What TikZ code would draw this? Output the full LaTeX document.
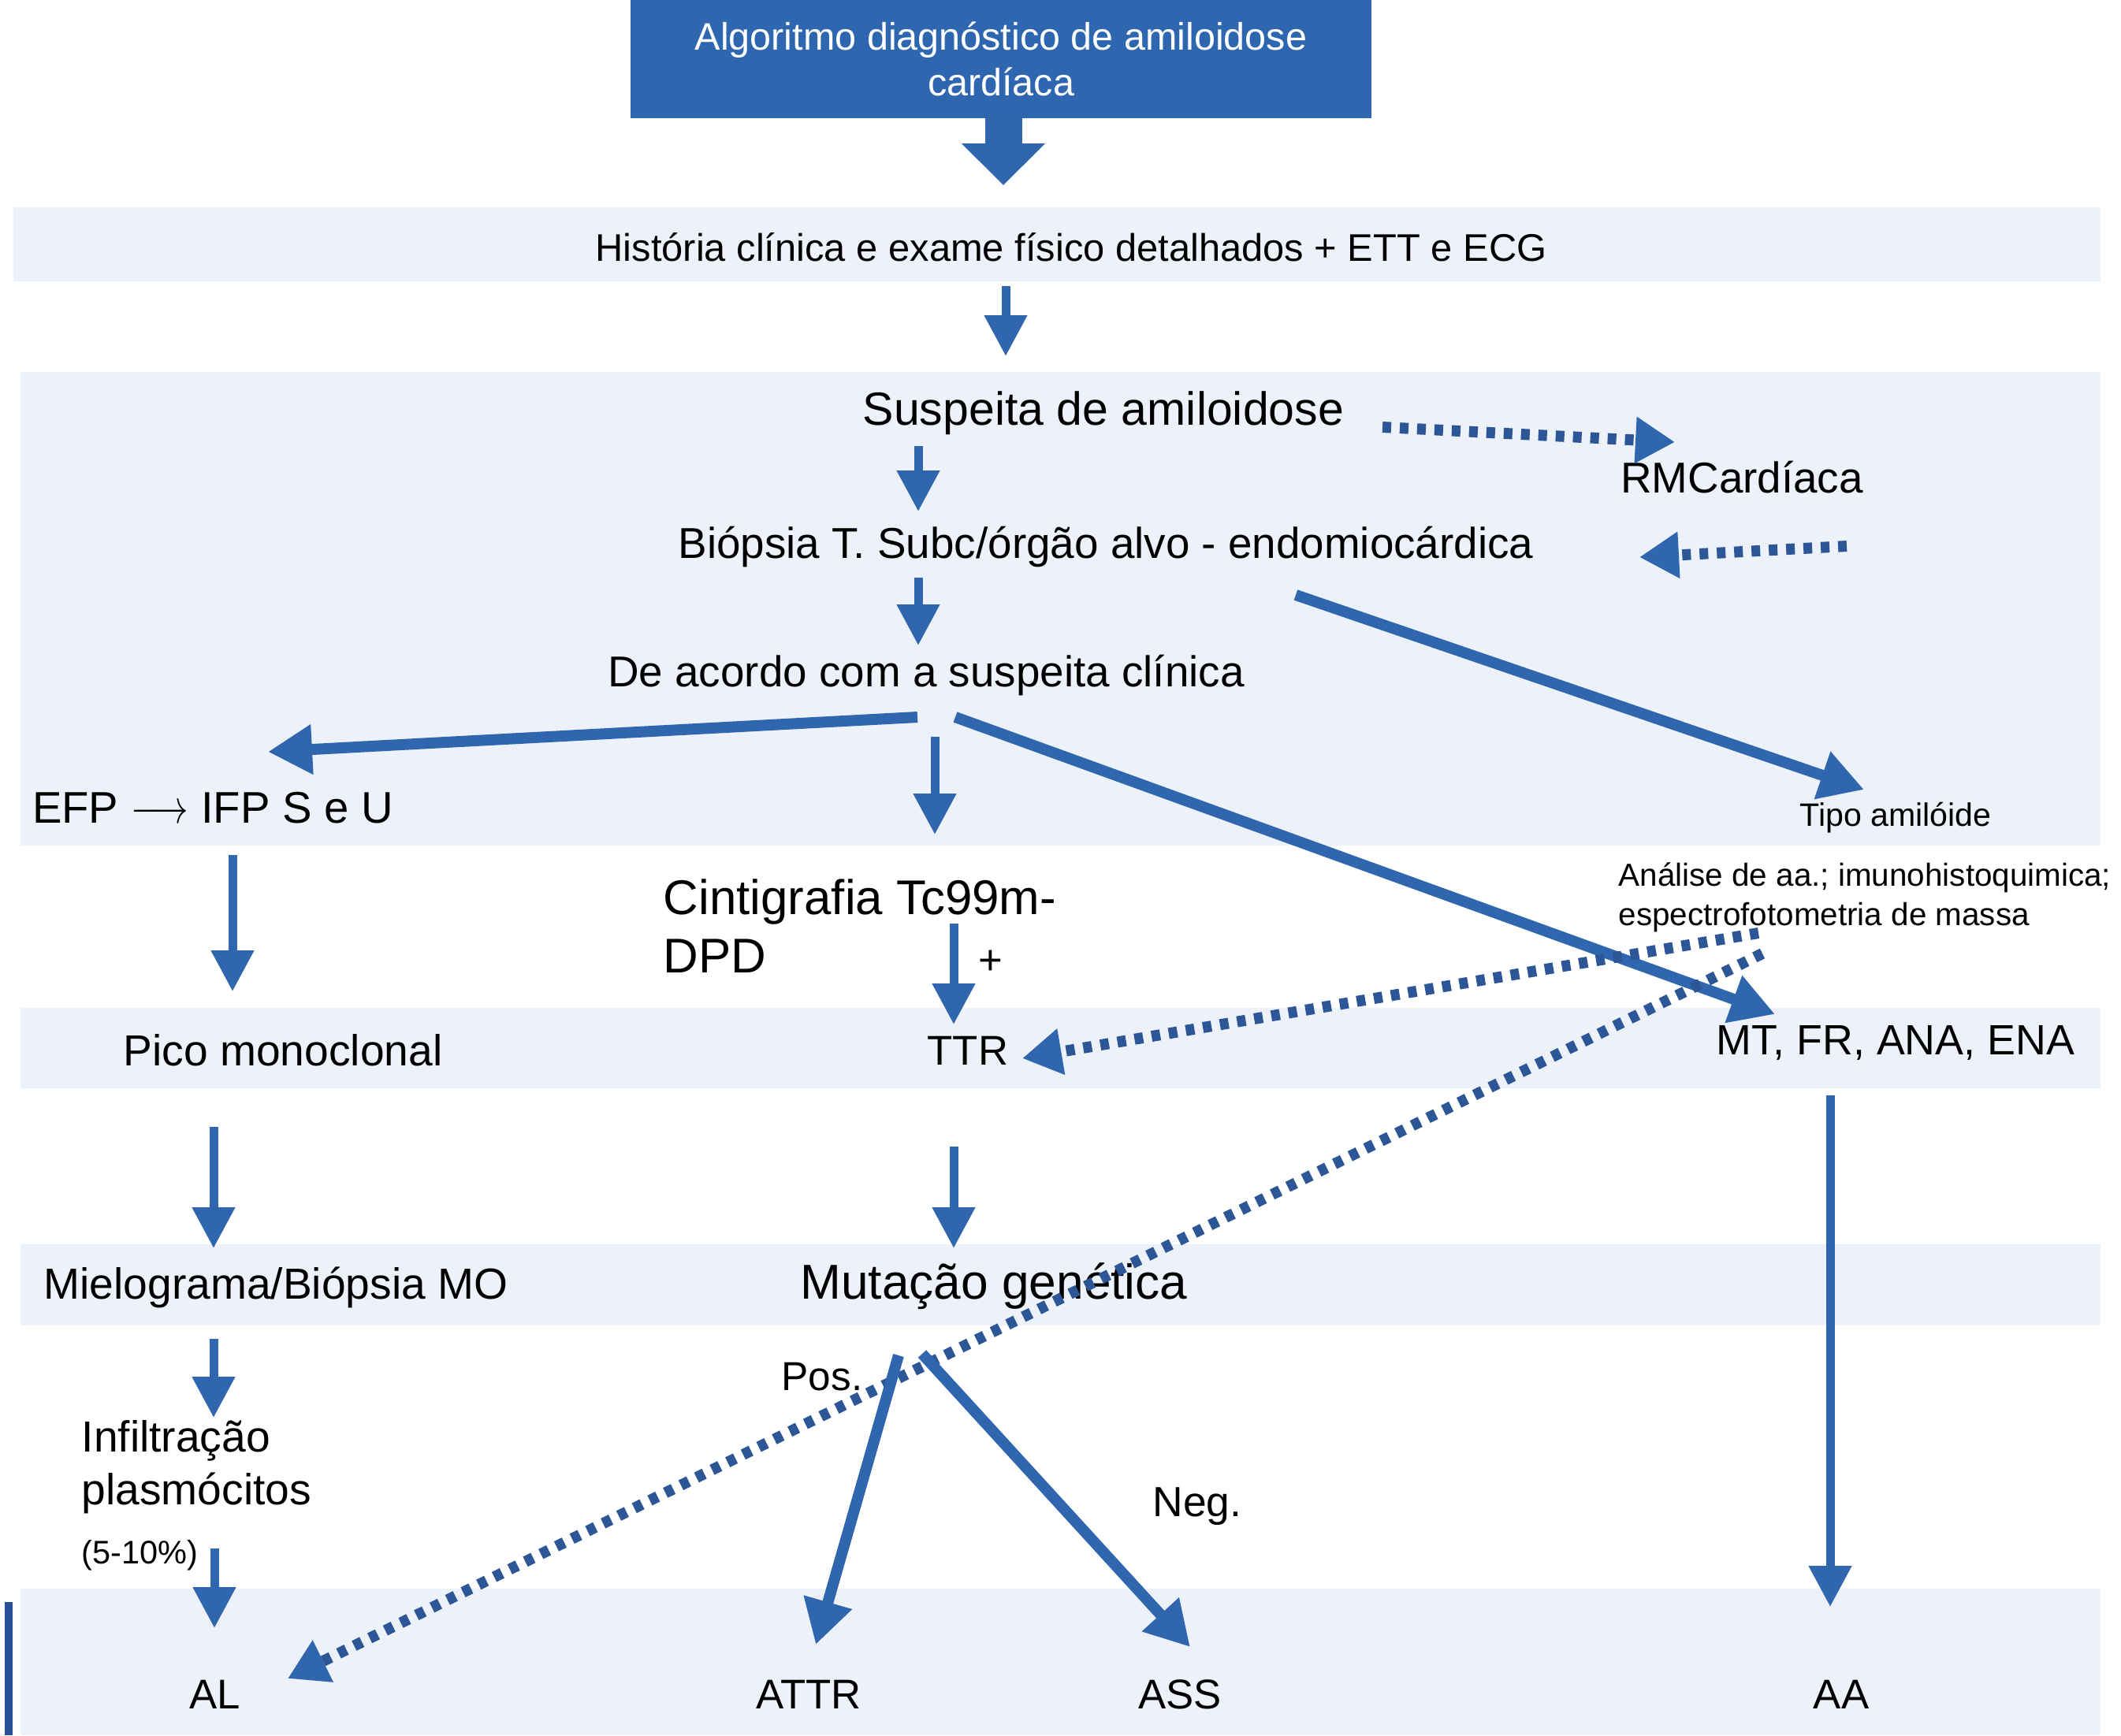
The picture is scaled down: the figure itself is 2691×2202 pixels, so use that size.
\documentclass[tikz,border=0pt]{standalone}
\usepackage{fontspec}
\setmainfont{Liberation Sans}
\usetikzlibrary{arrows.meta,calc}
\definecolor{bandc}{RGB}{237,241,250}
\definecolor{titlec}{RGB}{46,103,176}
\definecolor{arrc}{RGB}{47,102,174}
\definecolor{dotc}{RGB}{44,86,150}
\definecolor{edgec}{RGB}{40,80,150}
\newcommand{\myfs}[2]{\fontsize{#1}{#2}\selectfont}
\begin{document}
\begin{tikzpicture}[x=0.1mm,y=-0.1mm,
  lbl/.style={inner sep=0pt, text=black},
  thinarr/.style={draw=arrc, line width=1.1mm, -{Triangle[width=5.2mm,length=5.2mm]}},
  medarr/.style={draw=arrc, line width=1.4mm, -{Triangle[width=6mm,length=5.6mm]}},
  fatarr/.style={draw=arrc, line width=4.7mm, -{Triangle[width=10.3mm,length=5.3mm]}},
  dotarr/.style={draw=dotc, line width=1.4mm, dash pattern=on 1.1mm off 1.1mm, -{Triangle[width=5.6mm,length=5mm,color=arrc]}},
]
\fill[white] (0,0) rectangle (2691,2202);
\useasboundingbox (0,0) rectangle (2691,2202);
% bands
\fill[bandc] (17,263) rectangle (2665,357);
\fill[bandc] (26,472) rectangle (2665,1073);
\fill[bandc] (26,1279) rectangle (2665,1381);
\fill[bandc] (26,1579) rectangle (2665,1682);
\fill[bandc] (26,2016) rectangle (2665,2202);
\fill[edgec] (6,2033) rectangle (16,2202);

% nodes
\node[fill=titlec, text=white, inner sep=0pt, minimum width=94mm, minimum height=15mm, align=center, font=\myfs{13.8}{16.5}] (title) at (1270,75) {Algoritmo diagnóstico de amiloidose\\cardíaca};
\node[lbl, font=\myfs{13.9}{17}] (hist) at (1359,314) {História clínica e exame físico detalhados + ETT e ECG};
\node[lbl, font=\myfs{16.8}{20}] (susp) at (1400,524) {Suspeita de amiloidose};
\node[lbl, font=\myfs{15.6}{19}] (rmc) at (2210,606) {RMCardíaca};
\node[lbl, font=\myfs{15.6}{19}] (biop) at (1403,694) {Biópsia T. Subc/órgão alvo - endomiocárdica};
\node[lbl, font=\myfs{15.6}{19}] (deac) at (1175,857) {De acordo com a suspeita clínica};
\node[lbl, font=\myfs{11.7}{14}] (tipo) at (2405,1038) {Tipo amilóide};
\node[lbl, font=\myfs{16}{19}] (efp) at (270,1025) {EFP \scalebox{0.75}[1]{$\longrightarrow$} IFP S e U};
\node[lbl, font=\myfs{17.6}{21.3}, anchor=west, align=left] (cint) at (841,1175) {Cintigrafia Tc99m-\\DPD};
\node[lbl, font=\myfs{15}{18}] (plus) at (1257,1221) {+};
\node[lbl, font=\myfs{11.5}{14.2}, anchor=west, align=left] (anal) at (2053,1139) {Análise de aa.; imunohistoquimica;\\espectrofotometria de massa};
\node[lbl, font=\myfs{15.7}{19}] (pico) at (359,1333) {Pico monoclonal};
\node[lbl, font=\myfs{15}{18}] (ttr) at (1228,1333) {TTR};
\node[lbl, font=\myfs{15.3}{18}] (mt) at (2405,1323) {MT, FR, ANA, ENA};
\node[lbl, font=\myfs{15.7}{19}] (miel) at (350,1634) {Mielograma/Biópsia MO};
\node[lbl, font=\myfs{17.7}{21}] (mut) at (1261,1632) {Mutação genética};
\node[lbl, font=\myfs{15.7}{19}, anchor=west, align=left] (infil) at (103,1862) {Infiltração\\plasmócitos};
\node[lbl, font=\myfs{11.8}{14}, anchor=west] (pct) at (103,1974) {(5-10\%)};
\node[lbl, font=\myfs{14.6}{18}] (pos) at (1043,1747) {Pos.};
\node[lbl, font=\myfs{15.2}{18}] (neg) at (1519,1912) {Neg.};
\node[lbl, font=\myfs{15}{18}] (al) at (273,2150) {AL};
\node[lbl, font=\myfs{15}{18}] (attr) at (1026,2150) {ATTR};
\node[lbl, font=\myfs{15}{18}] (ass) at (1497,2150) {ASS};
\node[lbl, font=\myfs{15}{18}] (aa) at (2336,2150) {AA};

% connectors
\draw[fatarr] ($(title.center)+(3,70)$) -- ($(hist.center)+(-86,-79)$);
\draw[thinarr] ($(hist.center)+(-83,49)$) -- ($(susp.center)+(-124,-72)$);
\draw[thinarr] ($(susp.center)+(-235,42)$) -- ($(biop.center)+(-238,-45)$);
\draw[thinarr] ($(biop.center)+(-238,39)$) -- ($(deac.center)+(-10,-38)$);
\draw[dotarr] ($(susp.center)+(354,18)$) -- ($(rmc.center)+(-85,-45)$);
\draw[dotarr] ($(rmc.center)+(133,87)$) -- ($(biop.center)+(677,13)$);
\draw[medarr] ($(biop.center)+(241,61)$) -- ($(tipo.center)+(-40,-36)$);
\draw[medarr] ($(deac.center)+(-11,53)$) -- ($(efp.center)+(70,-71)$);
\draw[thinarr] ($(deac.center)+(11,78)$) -- ($(cint.west)+(345,-116)$);
\draw[medarr] ($(deac.center)+(37,53)$) -- ($(mt.center)+(-153,-36)$);
\draw[thinarr] ($(efp.center)+(25,60)$) -- ($(pico.center)+(-64,-75)$);
\draw[thinarr] ($(cint.west)+(369,-3)$) -- ($(ttr.center)+(-18,-33)$);
\draw[dotarr] ($(anal.west)+(178,45)$) -- ($(ttr.center)+(69,10)$);
\draw[dotarr] ($(anal.west)+(183,71)$) -- ($(al.center)+(92,-20)$);
\draw[thinarr] ($(pico.center)+(-88,97)$) -- ($(miel.center)+(-79,-50)$);
\draw[thinarr] ($(ttr.center)+(-18,122)$) -- ($(mut.center)+(-51,-48)$);
\draw[thinarr] ($(mt.center)+(-83,67)$) -- ($(aa.center)+(-14,-111)$);
\draw[thinarr] ($(miel.center)+(-79,65)$) -- ($(infil.west)+(168,-63)$);
\draw[thinarr] ($(pct.west)+(169,-9)$) -- ($(al.center)+(-1,-84)$);
\draw[medarr] ($(mut.center)+(-121,88)$) -- ($(attr.center)+(9,-63)$);
\draw[medarr] ($(mut.center)+(-91,86)$) -- ($(ass.center)+(13,-60)$);
\end{tikzpicture}
\end{document}
